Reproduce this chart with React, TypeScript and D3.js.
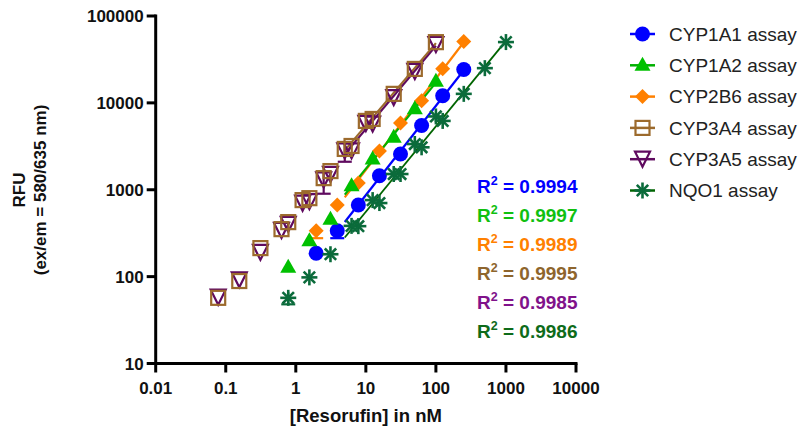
import React from "react";
import * as d3 from "d3";

const seriesNames = ["CYP1A1 assay", "CYP1A2 assay", "CYP2B6 assay", "CYP3A4 assay", "CYP3A5 assay", "NQO1 assay"];
const r2Labels = ["0.9994", "0.9997", "0.9989", "0.9995", "0.9985", "0.9986"];

const xTicks = [0.01, 0.1, 1, 10, 100, 1000, 10000];
const yTicks = [10, 100, 1000, 10000, 100000];

// CYP1A1
const cyp1a1X = [1.953, 3.906, 7.8125, 15.625, 31.25, 62.5, 125, 250];
const cyp1a1Y = [186, 337, 667, 1450, 2580, 5500, 12100, 24200];
const cyp1a1Err = [0, 60, 0, 0, 0, 0, 0, 0];
// CYP1A2
const cyp1a2X = [0.78, 1.5625, 3.125, 6.25, 12.5, 25, 50, 100];
const cyp1a2Y = [128, 258, 459, 1110, 2260, 4020, 8530, 17700];
const cyp1a2Err = [0, 0, 0, 0, 0, 0, 0, 0];
// CYP2B6
const cyp2b6X = [1.953, 3.906, 7.8125, 15.625, 31.25, 62.5, 125, 250];
const cyp2b6Y = [337, 667, 1195, 2800, 5870, 10600, 24700, 51000];
const cyp2b6Err = [60, 0, 0, 0, 0, 0, 0, 0];
// CYP3A4
const cyp3a4X = [0.078, 0.156, 0.3125, 0.625, 0.78, 1.25, 1.5625, 2.5, 3.125, 5, 6.25, 10, 12.5, 25, 50, 100];
const cyp3a4Y = [57, 89, 213, 352, 424, 760, 800, 1360, 1640, 2950, 3190, 6200, 6530, 12700, 24600, 50000];
const cyp3a4Err = [0, 0, 0, 0, 0, 0, 0, 0, 0, 0, 0, 0, 0, 0, 0, 0];
// CYP3A5
const cyp3a5X = [0.078, 0.156, 0.3125, 0.625, 0.78, 1.25, 1.5625, 2.5, 3.125, 5, 6.25, 10, 12.5, 25, 50, 100];
const cyp3a5Y = [58, 92, 190, 340, 400, 700, 730, 1300, 1500, 2800, 2800, 5800, 5700, 11500, 23000, 47000];
const cyp3a5Err = [0, 0, 0, 0, 0, 0, 0, 400, 0, 700, 0, 0, 0, 0, 0, 0];
// NQO1
const nqo1X = [0.78, 1.5625, 3.125, 6.25, 7.8125, 12.5, 15.625, 25, 31.25, 50, 62.5, 100, 125, 250, 500, 1000];
const nqo1Y = [57, 98, 181, 384, 381, 760, 703, 1517, 1517, 3360, 3080, 6980, 6200, 12700, 25100, 50100];
const nqo1Err = [9, 0, 0, 0, 0, 0, 0, 0, 0, 0, 0, 0, 0, 0, 0, 0];

// start of each regression line (nM)
const lineStart = [5, 5, 5, 5, 5, 5];

const markerColors = ["#0000FF", "#00C000", "#FF8000", "#9C6A2C", "#5F0A5F", "#0B6B3B"];
const lineColors = ["#0000FF", "#00B000", "#FF8000", "#9C6A2C", "#5F0A5F", "#006400"];
const textColors = ["#0000FF", "#10C010", "#FF8000", "#8E652D", "#80128A", "#0E6B1A"];
const shapes = ["circle", "triUp", "diamond", "square", "triDown", "asterisk"];

const seriesX = [cyp1a1X, cyp1a2X, cyp2b6X, cyp3a4X, cyp3a5X, nqo1X];
const seriesY = [cyp1a1Y, cyp1a2Y, cyp2b6Y, cyp3a4Y, cyp3a5Y, nqo1Y];
const seriesErr = [cyp1a1Err, cyp1a2Err, cyp2b6Err, cyp3a4Err, cyp3a5Err, nqo1Err];

const FONT = "'Liberation Sans', Arial, Helvetica, sans-serif";

function Marker({ shape, x, y, color }: { shape: string; x: number; y: number; color: string }) {
  const t = `translate(${x},${y})`;
  switch (shape) {
    case "circle":
      return <circle cx={x} cy={y} r={7.5} fill={color} />;
    case "triUp":
      return <path transform={t} d="M0,-8.5L8,5.5L-8,5.5Z" fill={color} />;
    case "diamond":
      return <path transform={t} d="M0,-7.5L7.5,0L0,7.5L-7.5,0Z" fill={color} />;
    case "square":
      return <rect x={x - 7} y={y - 7} width={14} height={14} fill="none" stroke={color} strokeWidth={2.2} />;
    case "triDown":
      return <path transform={t} d="M-7.5,-7.5L7.5,-7.5L0,7.5Z" fill="none" stroke={color} strokeWidth={2.2} />;
    case "asterisk":
      return (
        <g transform={t} stroke={color} strokeWidth={2.6}>
          <line x1={0} y1={-8} x2={0} y2={8} />
          <line x1={-8} y1={0} x2={8} y2={0} />
          <line x1={-5.7} y1={-5.7} x2={5.7} y2={5.7} />
          <line x1={-5.7} y1={5.7} x2={5.7} y2={-5.7} />
        </g>
      );
    default:
      return null;
  }
}

function fitLine(xs: number[], ys: number[], from: number) {
  const pts = xs.map((x, i) => [Math.log10(x), Math.log10(ys[i])]).filter((p) => p[0] >= Math.log10(from) - 0.15);
  const mx = d3.mean(pts, (p) => p[0]) as number;
  const my = d3.mean(pts, (p) => p[1]) as number;
  let sxy = 0, sxx = 0;
  pts.forEach((p) => {
    sxy += (p[0] - mx) * (p[1] - my);
    sxx += (p[0] - mx) * (p[0] - mx);
  });
  const b = sxy / sxx;
  const a = my - b * mx;
  const x0 = from;
  const x1 = d3.max(xs) as number;
  return [
    [x0, Math.pow(10, a + b * Math.log10(x0))],
    [x1, Math.pow(10, a + b * Math.log10(x1))],
  ];
}

export default function App() {
  const W = 800, H = 431;
  const x = d3.scaleLog().domain([0.01, 10000]).range([155.7, 576]);
  const y = d3.scaleLog().domain([10, 100000]).range([363.5, 16]);
  const x0 = 155.7, yAxis = 363.5;
  const line = d3.line<number[]>().x((d) => x(d[0])).y((d) => y(d[1]));

  const drawOrder = [4, 3, 2, 0, 1, 5];

  return (
    <svg width={W} height={H} style={{ position: "absolute", left: 0, top: 0, background: "#fff" }} fontFamily={FONT}>
      {/* regression lines */}
      {drawOrder.map((si) => (
        <path
          key={"l" + si}
          d={line(fitLine(seriesX[si], seriesY[si], lineStart[si])) || ""}
          stroke={lineColors[si]}
          strokeWidth={si === 5 ? 1.8 : 2.2}
          fill="none"
        />
      ))}
      {/* error bars */}
      {drawOrder.map((si) =>
        seriesErr[si].map((e, i) =>
          e > 0 ? (
            <g key={"e" + si + "-" + i} stroke={markerColors[si]} strokeWidth={2.2}>
              <line x1={x(seriesX[si][i])} x2={x(seriesX[si][i])} y1={y(seriesY[si][i] + e)} y2={y(seriesY[si][i] - e)} />
              <line x1={x(seriesX[si][i]) - 7} x2={x(seriesX[si][i]) + 7} y1={y(seriesY[si][i] - e)} y2={y(seriesY[si][i] - e)} />
            </g>
          ) : null
        )
      )}
      {/* markers */}
      {drawOrder.map((si) =>
        seriesX[si].map((xv, i) => (
          <Marker key={"m" + si + "-" + i} shape={shapes[si]} x={x(xv)} y={y(seriesY[si][i])} color={markerColors[si]} />
        ))
      )}
      {/* axes */}
      <line x1={x0} x2={x0} y1={y(100000) - 1.5} y2={yAxis + 1.5} stroke="#000" strokeWidth={3} />
      <line x1={x0 - 1.5} x2={x(10000) + 1.5} y1={yAxis} y2={yAxis} stroke="#000" strokeWidth={3} />
      {yTicks.map((t) => (
        <g key={"yt" + t}>
          <line x1={x0 - 9} x2={x0} y1={y(t)} y2={y(t)} stroke="#000" strokeWidth={3} />
          <text x={x0 - 12} y={y(t)} dy="0.36em" textAnchor="end" fontSize={17} fontWeight="bold" fill="#111">
            {String(t)}
          </text>
        </g>
      ))}
      {xTicks.map((t) => (
        <g key={"xt" + t}>
          <line x1={x(t)} x2={x(t)} y1={yAxis} y2={yAxis + 9} stroke="#000" strokeWidth={3} />
          <text x={x(t)} y={394} textAnchor="middle" fontSize={17} fontWeight="bold" fill="#111">
            {String(t)}
          </text>
        </g>
      ))}
      <text x={(x(0.01) + x(10000)) / 2} y={422} textAnchor="middle" fontSize={18.5} fontWeight="bold" fill="#111">
        [Resorufin] in nM
      </text>
      <g transform="translate(25,190) rotate(-90)">
        <text x={0} y={0} textAnchor="middle" fontSize={17} fontWeight="bold" fill="#111">RFU</text>
        <text x={0} y={21} textAnchor="middle" fontSize={17} fontWeight="bold" fill="#111">(ex/em = 580/635 nm)</text>
      </g>
      {/* R2 labels */}
      {r2Labels.map((r, i) => (
        <text key={"r" + i} x={477} y={193 + i * 29} fontSize={19} fontWeight="bold" fill={textColors[i]}>
          R<tspan dy={-8} fontSize={12.5}>2</tspan>
          <tspan dy={8}> = {r}</tspan>
        </text>
      ))}
      {/* legend */}
      {seriesNames.map((n, i) => {
        const ly = 34 + i * 31.3;
        return (
          <g key={"lg" + i}>
            <line x1={630} x2={655} y1={ly} y2={ly} stroke={lineColors[i]} strokeWidth={2.5} />
            <Marker shape={shapes[i]} x={642.5} y={ly} color={markerColors[i]} />
            <text x={669} y={ly} dy="0.36em" fontSize={19} fill="#222">
              {n}
            </text>
          </g>
        );
      })}
    </svg>
  );
}
